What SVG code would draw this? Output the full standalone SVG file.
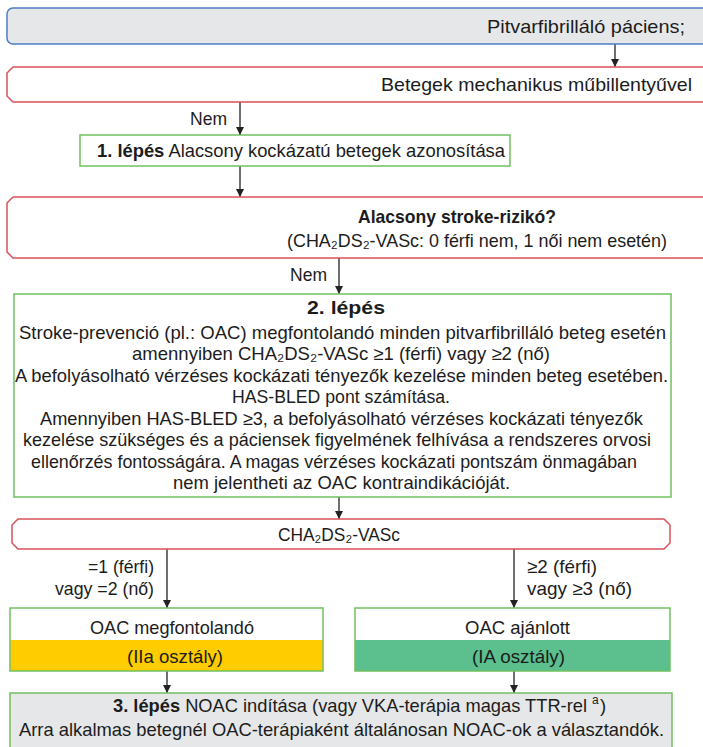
<svg xmlns="http://www.w3.org/2000/svg" width="703" height="747" viewBox="0 0 703 747">
<style>
text{font-family:"Liberation Sans","DejaVu Sans",Arial,sans-serif;font-size:18.5px;fill:#1c1c1c}
.b{font-weight:bold}
.m{text-anchor:middle}
.e{text-anchor:end}
.sub{font-size:12px}
.blue{fill:#e6e7e9;stroke:#4c7cc5;stroke-width:1.5}
.red{fill:#ffffff;stroke:#d8525a;stroke-width:1.5}
.grn{fill:#ffffff;stroke:#72c062;stroke-width:1.5}
.gry{fill:#e6e7e8;stroke:#72c062;stroke-width:1.5}
.cn{stroke:#222;stroke-width:1.3;fill:none;marker-end:url(#ah)}
</style>
<defs>
<marker id="ah" viewBox="0 0 10 10" refX="10" refY="5" markerWidth="9" markerHeight="8" markerUnits="userSpaceOnUse" orient="auto">
<path d="M0,0 L10,5 L0,10 z" fill="#222"/>
</marker>
</defs>
<rect width="703" height="747" fill="#ffffff"/>
<g id="connectors">
<line class="cn" x1="615" y1="44" x2="615" y2="67"/>
<line class="cn" x1="240" y1="102" x2="240" y2="135"/>
<line class="cn" x1="240" y1="166" x2="240" y2="197"/>
<line class="cn" x1="339" y1="258" x2="339" y2="294"/>
<line class="cn" x1="339" y1="497" x2="339" y2="519"/>
<line class="cn" x1="167" y1="549" x2="167" y2="608"/>
<line class="cn" x1="514" y1="549" x2="514" y2="608"/>
<line class="cn" x1="167" y1="671" x2="167" y2="693"/>
<line class="cn" x1="514" y1="671" x2="514" y2="693"/>
<text x="190" y="125" textLength="37" lengthAdjust="spacingAndGlyphs">Nem</text>
<text x="290" y="281" textLength="37" lengthAdjust="spacingAndGlyphs">Nem</text>
<text x="88" y="573" textLength="66" lengthAdjust="spacingAndGlyphs">=1 (férfi)</text>
<text x="55" y="595" textLength="99" lengthAdjust="spacingAndGlyphs">vagy =2 (nő)</text>
<text x="527" y="573" textLength="70" lengthAdjust="spacingAndGlyphs">≥2 (férfi)</text>
<text x="527" y="595" textLength="105" lengthAdjust="spacingAndGlyphs">vagy ≥3 (nő)</text>
</g>
<g id="n1">
<rect class="blue" x="7" y="8" width="720" height="36" rx="6"/>
<text x="487" y="33" textLength="198" lengthAdjust="spacingAndGlyphs">Pitvarfibrilláló páciens;</text>
</g>
<g id="n2">
<polygon class="red" points="13,67 720,67 720,102 13,102 7,96 7,73"/>
<text x="381" y="91" textLength="311" lengthAdjust="spacingAndGlyphs">Betegek mechanikus műbillentyűvel</text>
</g>
<g id="n3">
<rect class="grn" x="80" y="135" width="430" height="31"/>
<text x="97" y="157" textLength="408" lengthAdjust="spacingAndGlyphs"><tspan class="b">1. lépés</tspan> Alacsony kockázatú betegek azonosítása</text>
</g>
<g id="n4">
<polygon class="red" points="13,197 720,197 720,258 13,258 7,252 7,203"/>
<text x="358" y="223" class="b" textLength="198" lengthAdjust="spacingAndGlyphs">Alacsony stroke-rizikó?</text>
<text x="287" y="247" textLength="380" lengthAdjust="spacingAndGlyphs">(CHA₂DS₂-VASc: 0 férfi nem, 1 női nem esetén)</text>
</g>
<g id="n5">
<rect class="grn" x="14" y="294" width="657" height="203"/>
<text x="307" y="314" class="b" textLength="78" lengthAdjust="spacingAndGlyphs">2. lépés</text>
<text x="19" y="339" textLength="647" lengthAdjust="spacingAndGlyphs">Stroke-prevenció (pl.: OAC) megfontolandó minden pitvarfibrilláló beteg esetén</text>
<text x="341" y="360" class="m">amennyiben CHA₂DS₂-VASc ≥1 (férfi) vagy ≥2 (nő)</text>
<text x="15" y="382" textLength="653" lengthAdjust="spacingAndGlyphs">A befolyásolható vérzéses kockázati tényezők kezelése minden beteg esetében.</text>
<text x="232" y="403" textLength="218" lengthAdjust="spacingAndGlyphs">HAS-BLED pont számítása.</text>
<text x="40" y="425" textLength="603" lengthAdjust="spacingAndGlyphs">Amennyiben HAS-BLED ≥3, a befolyásolható vérzéses kockázati tényezők</text>
<text x="23" y="446" textLength="628" lengthAdjust="spacingAndGlyphs">kezelése szükséges és a páciensek figyelmének felhívása a rendszeres orvosi</text>
<text x="31" y="468" textLength="606" lengthAdjust="spacingAndGlyphs">ellenőrzés fontosságára. A magas vérzéses kockázati pontszám önmagában</text>
<text x="173" y="489" textLength="337" lengthAdjust="spacingAndGlyphs">nem jelentheti az OAC kontraindikációját.</text>
</g>
<g id="n6">
<polygon class="red" points="18,519 664,519 670,525 670,543 664,549 18,549 12,543 12,525"/>
<text x="278" y="541" textLength="122" lengthAdjust="spacingAndGlyphs">CHA₂DS₂-VASc</text>
</g>
<g id="n7">
<rect x="10" y="640" width="313" height="31" fill="#ffcc00"/>
<rect x="10" y="608" width="313" height="63" fill="none" stroke="#72c062" stroke-width="1.5"/>
<text x="90" y="634" textLength="164" lengthAdjust="spacingAndGlyphs">OAC megfontolandó</text>
<text x="127" y="663" textLength="96" lengthAdjust="spacingAndGlyphs">(IIa osztály)</text>
</g>
<g id="n8">
<rect x="355" y="640" width="315" height="31" fill="#5bbf8e"/>
<rect x="355" y="608" width="315" height="63" fill="none" stroke="#72c062" stroke-width="1.5"/>
<text x="465" y="634" textLength="105" lengthAdjust="spacingAndGlyphs">OAC ajánlott</text>
<text x="472" y="663" textLength="93" lengthAdjust="spacingAndGlyphs">(IA osztály)</text>
</g>
<g id="n9">
<rect class="gry" x="10" y="693" width="662" height="60"/>
<text x="113" y="712" textLength="474" lengthAdjust="spacingAndGlyphs"><tspan class="b">3. lépés</tspan>  NOAC indítása (vagy VKA-terápia magas TTR-rel</text>
<text x="592" y="704" class="sub">a</text>
<text x="600" y="712">)</text>
<text x="19" y="736" textLength="645" lengthAdjust="spacingAndGlyphs">Arra alkalmas betegnél OAC-terápiaként általánosan NOAC-ok a választandók.</text>
</g>
</svg>
